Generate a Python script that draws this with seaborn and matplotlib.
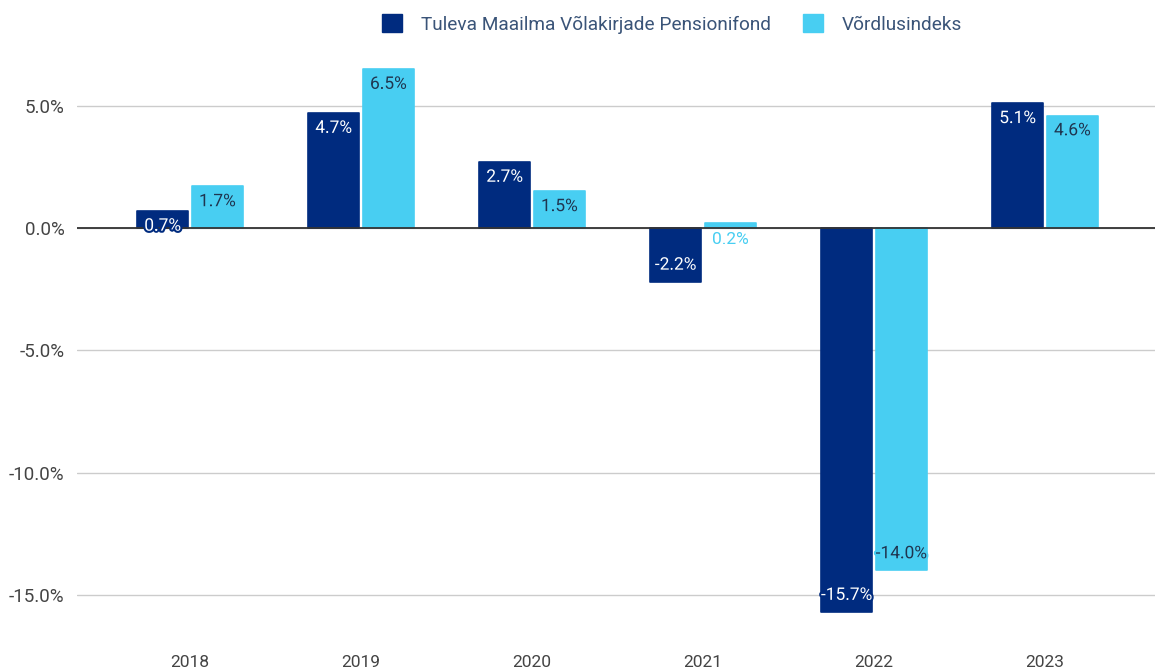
import matplotlib
matplotlib.use("Agg")
import matplotlib.pyplot as plt
import matplotlib.patheffects as pe
from matplotlib.patches import Patch
import seaborn as sns
import pandas as pd

years = ["2018", "2019", "2020", "2021", "2022", "2023"]
fund_name = "Tuleva Maailma Võlakirjade Pensionifond"
index_name = "Võrdlusindeks"
fund_values = [0.7, 4.7, 2.7, -2.2, -15.7, 5.1]
index_values = [1.7, 6.5, 1.5, 0.2, -14.0, 4.6]
yticks = [5, 0, -5, -10, -15]

NAVY = "#002B7F"
CYAN = "#48CEF2"

df = pd.DataFrame({
    "year": years * 2,
    "value": fund_values + index_values,
    "series": [fund_name] * len(years) + [index_name] * len(years),
})

sns.set_theme(style="white")
plt.rcParams["font.family"] = ["Roboto", "DejaVu Sans"]

fig = plt.figure(figsize=(11.55, 6.68), dpi=100)
ax = fig.add_axes([77 / 1155, 1 - 643.8 / 668, 1 - 77 / 1155, (643.8 - 56.8) / 668])

sns.barplot(data=df, x="year", y="value", hue="series",
            hue_order=[fund_name, index_name], order=years,
            palette=[NAVY, CYAN], width=0.64, gap=0.07,
            legend=False, ax=ax, saturation=1)

# slightly rounded corners
for container in ax.containers:
    for bar in container:
        bar.set_edgecolor(bar.get_facecolor())
        bar.set_linewidth(1.2)
        bar.set_joinstyle("round")

ax.set_ylim(-17, 7)
ax.set_xlim(-0.661, 5 + (1155 - 1045) / 171)
ax.set_yticks(yticks)
ax.set_yticklabels([f"{v:.1f}%" for v in yticks])
for y in yticks:
    ax.axhline(y, color="#CCCCCC", lw=1.0, zorder=0.5)
ax.axhline(0, color="#333333", lw=1.3, zorder=3)
for s in ax.spines.values():
    s.set_visible(False)
ax.tick_params(axis="y", length=0, pad=9, labelsize=13.5, labelcolor="#444444")
ax.tick_params(axis="x", length=0, pad=8, labelsize=12.5, labelcolor="#444444")
ax.set_xlabel("")
ax.set_ylabel("")

# data labels
series_info = [(fund_values, NAVY, "white"), (index_values, CYAN, "#1F3550")]
for k, container in enumerate(ax.containers):
    vals, bar_col, txt_col = series_info[k]
    for bar, v in zip(container, vals):
        x = bar.get_x() + bar.get_width() / 2
        label = f"{v:.1f}%"
        if abs(v) < 0.5:
            ax.annotate(label, (x, 0), xytext=(0, -8), textcoords="offset points",
                        ha="center", va="center", fontsize=12.5, color=bar_col, zorder=5)
        else:
            off = -11 if v > 0 else 12
            ax.annotate(label, (x, v), xytext=(0, off), textcoords="offset points",
                        ha="center", va="center", fontsize=12.5, color=txt_col, zorder=5,
                        path_effects=[pe.withStroke(linewidth=3, foreground=bar_col)])

handles = [Patch(facecolor=NAVY, edgecolor=NAVY, joinstyle="round", label=fund_name),
           Patch(facecolor=CYAN, edgecolor=CYAN, joinstyle="round", label=index_name)]
fig.legend(handles=handles, loc="center", bbox_to_anchor=(0.582, 1 - 24 / 668), ncol=2,
           frameon=False, fontsize=13.7, labelcolor="#3A5478", handlelength=1.05,
           handleheight=1.1, handletextpad=1.0, columnspacing=1.7)

fig.savefig("out.png", dpi=100)
